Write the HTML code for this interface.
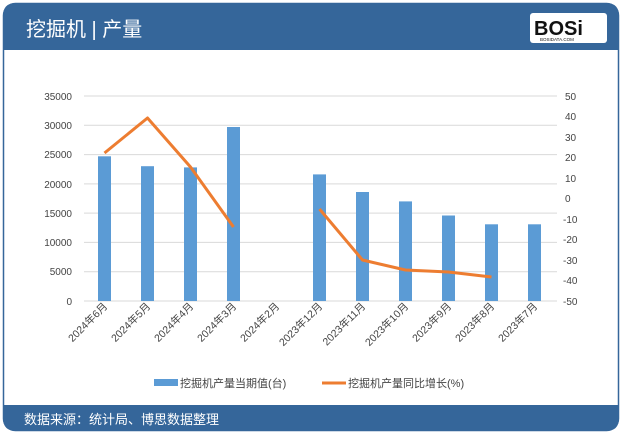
<!DOCTYPE html>
<html><head><meta charset="utf-8"><style>
body{margin:0;background:#fff;width:622px;height:434px;overflow:hidden;font-family:"Liberation Sans","Noto Sans CJK SC",sans-serif}
</style></head><body>
<svg width="622" height="434" xmlns="http://www.w3.org/2000/svg" font-family="Liberation Sans, Noto Sans CJK SC, sans-serif">
<rect x="3.5" y="3.5" width="615" height="427" rx="12" fill="#fff" stroke="#35669a" stroke-width="1.5"/>
<path d="M3,50 V16 Q3,3 16,3 H606 Q619,3 619,16 V50 Z" fill="#35669a"/>
<path d="M3,405 V418 Q3,431 16,431 H606 Q619,431 619,418 V405 Z" fill="#35669a"/>
<text x="26" y="36" fill="#fff" font-size="20">挖掘机 | 产量</text>
<rect x="530" y="13" width="77" height="30" rx="3" fill="#fff"/>
<text x="534" y="35" font-size="20" font-weight="bold" fill="#111">BOSi</text>
<text x="540" y="41" font-size="4.5" fill="#111">BOSIDATA.COM</text>
<text x="24" y="424" fill="#fff" font-size="13">数据来源：统计局、博思数据整理</text>
<g stroke="#d9d9d9" stroke-width="1">
<line x1="84" x2="557" y1="96" y2="96"/><line x1="84" x2="557" y1="125.3" y2="125.3"/><line x1="84" x2="557" y1="154.6" y2="154.6"/><line x1="84" x2="557" y1="183.9" y2="183.9"/><line x1="84" x2="557" y1="213.1" y2="213.1"/><line x1="84" x2="557" y1="242.4" y2="242.4"/><line x1="84" x2="557" y1="271.7" y2="271.7"/><line x1="84" x2="557" y1="301" y2="301"/>
</g>
<g font-size="10" fill="#444" text-anchor="end">
<text x="72" y="100">35000</text><text x="72" y="129">30000</text><text x="72" y="158">25000</text><text x="72" y="188">20000</text><text x="72" y="217">15000</text><text x="72" y="246">10000</text><text x="72" y="275">5000</text><text x="72" y="305">0</text>
</g>
<g font-size="10" fill="#444" text-anchor="start">
<text x="565" y="100">50</text><text x="565" y="120">40</text><text x="565" y="141">30</text><text x="565" y="161">20</text><text x="565" y="182">10</text><text x="565" y="202">0</text><text x="563" y="223">-10</text><text x="563" y="243">-20</text><text x="563" y="264">-30</text><text x="563" y="284">-40</text><text x="563" y="305">-50</text>
</g>
<g fill="#5b9bd5">
<rect x="98" y="156.3" width="13" height="144.7"/>
<rect x="141" y="166.2" width="13" height="134.8"/>
<rect x="184" y="167.4" width="13" height="133.6"/>
<rect x="227" y="127" width="13" height="174"/>
<rect x="313" y="174.4" width="13" height="126.6"/>
<rect x="356" y="192" width="13" height="109"/>
<rect x="399" y="201.4" width="13" height="99.6"/>
<rect x="442" y="215.5" width="13" height="85.5"/>
<rect x="485" y="224.3" width="13" height="76.7"/>
<rect x="528" y="224.3" width="13" height="76.7"/>
</g>
<g fill="none" stroke="#ed7d31" stroke-width="3" stroke-linejoin="round">
<polyline points="104.5,153 147.5,118 190.5,167 233.5,227"/>
<polyline points="319.5,209 362.5,260 405.5,270 448.5,272 491.5,277"/>
</g>
<g font-size="10.5" fill="#444" text-anchor="end">
<text transform="translate(108,307) rotate(-45)">2024年6月</text>
<text transform="translate(151,307) rotate(-45)">2024年5月</text>
<text transform="translate(194,307) rotate(-45)">2024年4月</text>
<text transform="translate(237,307) rotate(-45)">2024年3月</text>
<text transform="translate(280,307) rotate(-45)">2024年2月</text>
<text transform="translate(323,307) rotate(-45)">2023年12月</text>
<text transform="translate(366,307) rotate(-45)">2023年11月</text>
<text transform="translate(409,307) rotate(-45)">2023年10月</text>
<text transform="translate(452,307) rotate(-45)">2023年9月</text>
<text transform="translate(495,307) rotate(-45)">2023年8月</text>
<text transform="translate(538,307) rotate(-45)">2023年7月</text>
</g>
<rect x="154" y="379" width="24" height="7" fill="#5b9bd5"/>
<text x="180" y="387" font-size="11" fill="#444">挖掘机产量当期值(台)</text>
<line x1="322" x2="346" y1="383" y2="383" stroke="#ed7d31" stroke-width="3"/>
<text x="348" y="387" font-size="11" fill="#444">挖掘机产量同比增长(%)</text>
</svg>
</body></html>
